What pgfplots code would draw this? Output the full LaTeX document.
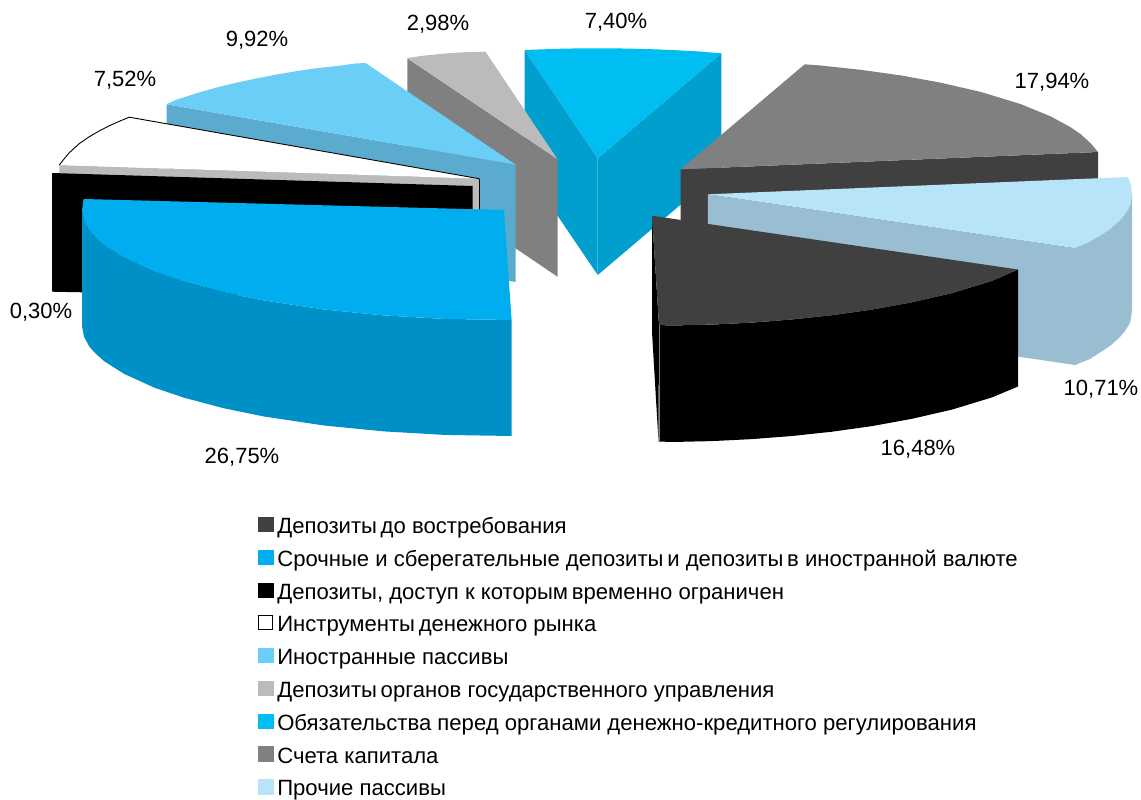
\documentclass[border=0pt]{standalone}
\usepackage{fontspec}
\setmainfont{Liberation Sans}
\usepackage{pgfplots}
\pgfplotsset{compat=1.18}
\definecolor{cTop}{HTML}{00AEEF}\definecolor{cTopS}{HTML}{0090C8}
\definecolor{fTop}{HTML}{6BCEF6}\definecolor{fS}{HTML}{5AABCE}
\definecolor{gTop}{HTML}{BBBBBB}\definecolor{gS}{HTML}{808080}
\definecolor{oTop}{HTML}{00BDF2}\definecolor{oS}{HTML}{009FCE}
\definecolor{kTop}{HTML}{808080}\definecolor{kS}{HTML}{404040}
\definecolor{pTop}{HTML}{B8E4F9}\definecolor{pS}{HTML}{99BED1}
\definecolor{dTop}{HTML}{404040}
\pgfplotsset{poly/.style={draw=none,forget plot,no markers},
  sw/.style={legend image code/.code={\fill[#1] (0pt,-3.6pt) rectangle (14.3pt,10.7pt);}}}
\begin{document}
\begin{tikzpicture}
\useasboundingbox (0,0) rectangle (1141pt,800pt);
\begin{axis}[
  scale only axis,width=1141pt,height=800pt,
  xmin=0,xmax=1141,ymin=0,ymax=800,y dir=reverse,
  axis lines=none,clip=false,
  legend cell align=left,
  legend style={at={(axis cs:258,516.8)},anchor=north west,draw=none,fill=none,inner sep=0pt,
    row sep=11.6pt,font=\fontsize{22.1}{26}\selectfont,
    nodes={text height=16pt,text depth=4.6pt,inner ysep=0pt,inner xsep=4.4pt}},
]
% Obligations (7.40%)
\addplot[poly,fill=oS] coordinates {(524.6,50)(597.7,158.3)(597.7,275)(524.6,167)};
\addplot[poly,fill=oS] coordinates {(597.7,158.3)(721.4,53.3)(721.4,170)(597.7,275)};
\addplot[poly,fill=oTop] coordinates {(524.6,50)(557.7,48.8)(577.7,48.4)(597.7,48.3)(617.7,48.4)(637.7,48.8)(657.7,49.4)(677.7,50.3)(697.7,51.4)(721.4,53.3)(597.7,158.3)};
% Government deposits (2.98%)
\addplot[poly,fill=gS] coordinates {(407.3,58.3)(557.5,159.3)(557.5,276.7)(407.3,175)};
\addplot[poly,fill=gTop] coordinates {(407.3,58)(425,55.5)(445,53.5)(465,52.2)(485.5,51.7)(557.5,159.3)};
% Foreign liabilities (9.92%)
\addplot[poly,fill=fS] coordinates {(166.5,104.3)(515.6,164.7)(515.6,282)(166.5,222)};
\addplot[poly,fill=fTop] coordinates {(166.5,104.3)(175.6,100)(195.6,93.5)(215.6,87.8)(235.6,82.9)(255.6,78.6)(275.6,74.7)(295.6,71.3)(315.6,68.3)(335.6,66.2)(355.6,63.5)(365.5,63)(515.6,164.7)};
% Money market instruments (7.52%)
\addplot[poly,fill=gTop] coordinates {(59.3,165)(479.3,178.7)(479.3,212)(59.3,182)};
\addplot[poly,fill=white,draw=black,line width=0.9pt] coordinates {(59.3,165)(64.3,158.7)(69.3,152.7)(79.3,143.6)(89.3,136.7)(99.3,130.9)(109.3,125.8)(119.3,121.3)(129.3,117.2)(479.3,178.7)};
\addplot[forget plot,no markers,draw=black,line width=0.9pt] coordinates {(479.3,178.7)(479.3,212)};
% Restricted deposits (0.30%)
\addplot[poly,fill=black] coordinates {(52,173)(472.7,186)(472.7,300)(52,291.7)};
% Time deposits (26.75%)
\addplot[poly,fill=cTopS] coordinates {(82,210)(84,220.7)(89,230)(94,236)(104,245.1)(124,257.8)(154,271.5)(184,281.7)(224,292.3)(264,300.5)(324,309.5)(384,315.4)(444,318.9)(511.6,320)(511.6,436)(444,434.9)(384,431.4)(324,425.5)(264,416.5)(224,408.3)(184,397.7)(154,387.5)(124,373.8)(104,361.1)(94,352)(89,346)(84,336.7)(82,326)};
\addplot[poly,fill=cTop] coordinates {(83.6,199)(504,210)(511.6,320)(444,318.9)(384,315.4)(324,309.5)(264,300.5)(224,292.3)(184,281.7)(154,271.5)(124,257.8)(104,245.1)(94,236)(89,230)(84,220.7)(82,210)};
% Capital (17.94%)
\addplot[poly,fill=kS] coordinates {(680.7,169.3)(1098,152)(1098,268)(680.7,285)};
\addplot[poly,fill=kTop] coordinates {(680.7,169.3)(804.7,64.3)(820.7,65.5)(860.7,69.8)(900.7,75.4)(940.7,82.7)(980.7,91.9)(1020.7,104.1)(1050.7,116.4)(1070.7,127.3)(1080.7,134.2)(1090.7,143.3)(1098,152)};
% Other liabilities (10.71%)
\addplot[poly,fill=pS] coordinates {(707.8,194.3)(1075,248.3)(1075,365)(707.8,311)};
\addplot[poly,fill=pS] coordinates {(1075,248.3)(1090,242)(1110,229)(1120,220)(1125,214)(1130,206)(1132,194)(1132,311)(1130,323)(1125,331)(1120,337)(1110,346)(1090,359)(1075,365)};
\addplot[poly,fill=pTop] coordinates {(707.8,194.3)(1128,177)(1131,185)(1132,194)(1130,206)(1125,214)(1120,220)(1110,229)(1090,242)(1075,248.3)};
% Demand deposits (16.48%)
\addplot[poly,fill=black] coordinates {(652,215.7)(652,332)(658.5,441.5)(659,325)};
\addplot[poly,fill=black] coordinates {(659,325)(672,325.5)(712,324.6)(752,322.6)(792,319.5)(832,315.2)(872,309.6)(912,302.3)(952,293.1)(992,280.9)(1018,269.5)(1018,386.5)(992,397.4)(952,409.6)(912,418.8)(872,426.1)(832,431.7)(792,436)(752,439.1)(712,441.1)(672,442)(659,441.5)};
\addplot[poly,fill=dTop] coordinates {(652,215.7)(1018,269.5)(992,280.9)(952,293.1)(912,302.3)(872,309.6)(832,315.2)(792,319.5)(752,322.6)(712,324.6)(672,325.5)(659,325)};
\addplot[forget plot,no markers,draw=gS,line width=0.4pt] coordinates {(658.7,325)(658.7,441)};
% Legend
\addlegendimage{sw=dTop}\addlegendentry{Депозиты\,до востребования}
\addlegendimage{sw=cTop}\addlegendentry{Срочные и сберегательные депозиты\,и депозиты\,в иностранной валюте}
\addlegendimage{sw=black}\addlegendentry{Депозиты, доступ к которым\,временно ограничен}
\addlegendimage{legend image code/.code={\filldraw[draw=black,fill=white,line width=0.8pt] (0.4pt,-3.2pt) rectangle (13.9pt,10.3pt);}}\addlegendentry{Инструменты\,денежного рынка}
\addlegendimage{sw=fTop}\addlegendentry{Иностранные пассивы}
\addlegendimage{sw=gTop}\addlegendentry{Депозиты\,органов государственного управления}
\addlegendimage{sw=oTop}\addlegendentry{Обязательства перед органами денежно-кредитного регулирования}
\addlegendimage{sw=kTop}\addlegendentry{Счета капитала}
\addlegendimage{sw=pTop}\addlegendentry{Прочие пассивы}
% Data labels
\tikzset{lab/.style={font=\fontsize{22}{26}\selectfont,anchor=center,inner sep=0pt}}
\node[lab] at (axis cs:257,40) {9,92\%};
\node[lab] at (axis cs:438,24) {2,98\%};
\node[lab] at (axis cs:616,22) {7,40\%};
\node[lab] at (axis cs:1052,82) {17,94\%};
\node[lab] at (axis cs:125,80) {7,52\%};
\node[lab] at (axis cs:41,312) {0,30\%};
\node[lab] at (axis cs:242,457) {26,75\%};
\node[lab] at (axis cs:918,449) {16,48\%};
\node[lab] at (axis cs:1101,389) {10,71\%};
\end{axis}
\end{tikzpicture}
\end{document}
